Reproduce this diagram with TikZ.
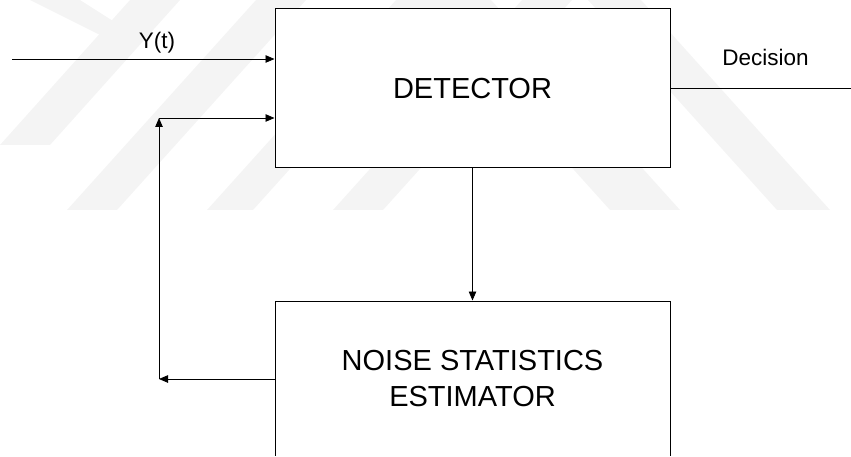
\documentclass[tikz,border=0pt]{standalone}
\usepackage{fontspec}
\setmainfont{Liberation Sans}
\usetikzlibrary{arrows.meta}
\definecolor{wmgray}{gray}{0.955}

\begin{document}
\begin{tikzpicture}[x=1pt, y=-1pt, line width=0.8pt,
    >={Triangle[length=9pt,width=7.5pt]},
    block/.style={draw, fill=white, line width=1pt, inner sep=0pt,
        minimum width=395pt, align=center,
        font=\fontsize{29}{36}\selectfont},
    sig/.style={anchor=base, inner sep=0pt, font=\fontsize{22.5}{27}\selectfont}]
    \useasboundingbox (0,0) rectangle (851,457);
    \clip (0,0) rectangle (851,455.5);
    % Background bands
    \fill[wmgray] (30,0) -- (80,0) -- (135,35) -- (100,35) -- cycle;
    \fill[wmgray] (0,145) -- (50,145) -- (180,0) -- (130,0) -- cycle;
    \fill[wmgray] (67,210) -- (117,210) -- (306,0) -- (256,0) -- cycle;
    \fill[wmgray] (207,210) -- (253,210) -- (442,0) -- (396,0) -- cycle;
    \fill[wmgray] (333,210) -- (383,210) -- (572,0) -- (522,0) -- cycle;
    \fill[wmgray] (610,210) -- (680,210) -- (491,0) -- (421,0) -- cycle;
    \fill[wmgray] (777,210) -- (830,210) -- (641,0) -- (588,0) -- cycle;
    % Blocks
    \node[block, minimum height=159pt] (det) at (472.5,88.5) {DETECTOR};
    \node[block, minimum height=156pt] (est) at (472.5,379) {NOISE STATISTICS\\ESTIMATOR};
    % Signal labels
    \node[sig] (ylab) at (157,49) {Y(t)};
    \node[sig] (dlab) at (765.5,66) {Decision};
    % Ends of the connectors
    \coordinate (yin) at (12,59);
    \coordinate (fbup) at (159,118);
    \coordinate (fblow) at (est.west -| fbup);
    \coordinate (dout) at (851,88.5);
    % Input and output
    \draw[->] (yin) -- (yin -| det.west);
    \draw (det.east) -- (dout);
    % Detector to estimator
    \draw[->] (det.south) -- (est.north);
    % Feedback loop
    \draw[->] (est.west) -- (fblow);
    \draw[->] (fblow) -- (fbup);
    \draw[->] (fbup) -- (fbup -| det.west);
\end{tikzpicture}
\end{document}
